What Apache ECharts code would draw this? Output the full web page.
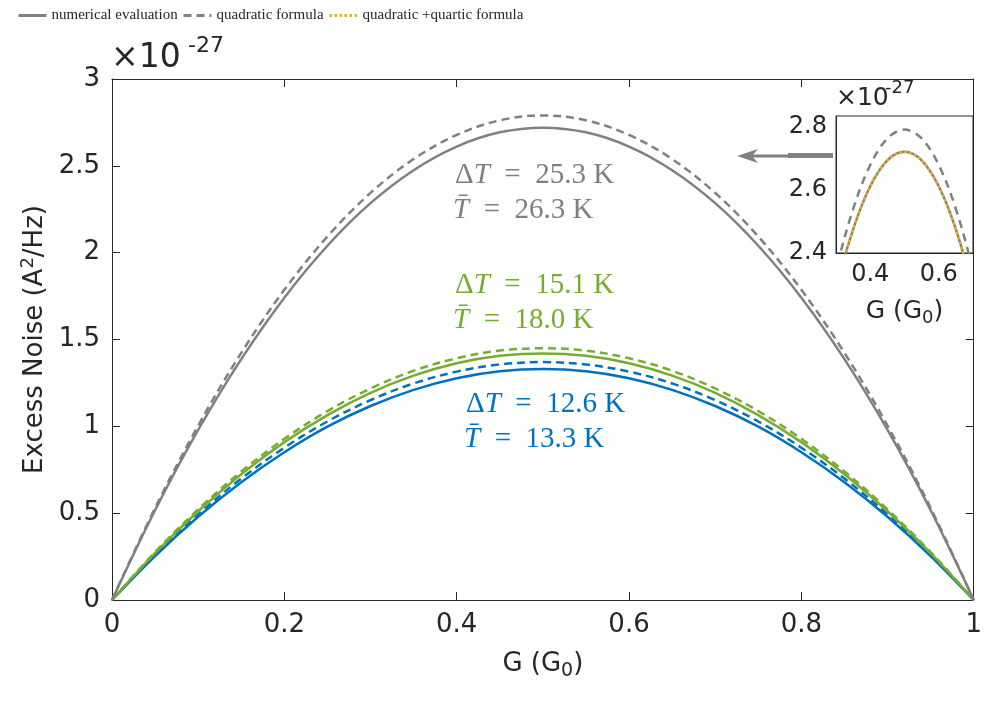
<!DOCTYPE html>
<html><head><meta charset="utf-8">
<script src="https://cdn.jsdelivr.net/npm/echarts@6/dist/echarts.min.js"></script>
<style>html,body{margin:0;padding:0;background:#fff}#c{width:985px;height:702px}</style>
</head><body><div id="c"></div>
<script>
// conductance G (G0)
const G = [0,0.05,0.1,0.15,0.2,0.25,0.3,0.35,0.4,0.45,0.5,0.55,0.6,0.65,0.7,0.75,0.8,0.85,0.9,0.95,1];
// excess noise, units of 1e-27 A^2/Hz
const grayNum   = [0,0.517,0.979,1.387,1.741,2.040,2.285,2.475,2.611,2.693,2.720,2.693,2.611,2.475,2.285,2.040,1.741,1.387,0.979,0.517,0];
const grayQuad  = [0,0.530,1.004,1.423,1.786,2.093,2.344,2.539,2.678,2.762,2.790,2.762,2.678,2.539,2.344,2.093,1.786,1.423,1.004,0.530,0];
const grayQuart = [0,0.517,0.979,1.387,1.741,2.040,2.285,2.475,2.611,2.693,2.719,2.693,2.611,2.475,2.285,2.040,1.741,1.387,0.979,0.517,0];
const greenNum  = [0,0.270,0.511,0.724,0.909,1.065,1.193,1.292,1.363,1.406,1.420,1.406,1.363,1.292,1.193,1.065,0.909,0.724,0.511,0.270,0];
const greenQuad = [0,0.276,0.522,0.740,0.928,1.088,1.218,1.320,1.392,1.436,1.450,1.436,1.392,1.320,1.218,1.088,0.928,0.740,0.522,0.276,0];
const blueNum   = [0,0.253,0.479,0.678,0.851,0.998,1.117,1.210,1.277,1.317,1.330,1.317,1.277,1.210,1.117,0.998,0.851,0.678,0.479,0.253,0];
const blueQuad  = [0,0.260,0.493,0.699,0.877,1.028,1.151,1.247,1.315,1.356,1.370,1.356,1.315,1.247,1.151,1.028,0.877,0.699,0.493,0.260,0];
const xTicks = [0,0.2,0.4,0.6,0.8,1];
const yTicks = [0,0.5,1,1.5,2,2.5,3];
const insetXLabels = [0.4,0.6];
const insetYLabels = [2.4,2.6,2.8];
const labels = [
  {d:'25.3', t:'26.3', color:'#808080'},
  {d:'15.1', t:'18.0', color:'#77AC30'},
  {d:'12.6', t:'13.3', color:'#0072BD'}
];

const GRAY='#808080', GREEN='#77AC30', BLUE='#0072BD', ORANGE='#EDB120', AX='#262626';
const pts = arr => G.map((g,i)=>[g,arr[i]]);
const fmt = v => String(parseFloat((+v).toFixed(2)));
const SANS = 'DejaVu Sans', SERIF = 'Liberation Serif';

function line(name, arr, color, dash, xi, z){
  return {type:'line', name, data:pts(arr), xAxisIndex:xi, yAxisIndex:xi, smooth:0.35,
    symbol:'none', z:z||2, animation:false, clip:true,
    lineStyle:{color, width:2.5, type:dash||'solid'}, itemStyle:{color}};
}
const baseAxis = {
  axisLine:{show:true,onZero:false,lineStyle:{color:AX,width:1}},
  axisTick:{show:true,inside:true,length:8,lineStyle:{color:AX}},
  splitLine:{show:false},
  axisLabel:{color:AX,fontFamily:SANS,fontSize:26},
  nameTextStyle:{color:AX,fontFamily:SANS,fontSize:26}
};
const nameRich = (fs, sfs) => ({
  color:AX, fontFamily:SANS, fontSize:fs,
  rich:{
    n:{color:AX,fontFamily:SANS,fontSize:fs},
    sub:{color:AX,fontFamily:SANS,fontSize:sfs,padding:[Math.round(fs*0.55),0,0,0]},
    sup:{color:AX,fontFamily:SANS,fontSize:sfs,padding:[0,0,Math.round(fs*0.5),0]}
  }
});

const chart = echarts.init(document.getElementById('c'), null, {renderer:'canvas'});
const legendText = {color:AX,fontFamily:SERIF,fontSize:15};
const legendCommon = {top:3, itemWidth:28, itemHeight:12, textStyle:legendText, itemStyle:{opacity:0}, lineStyle:{width:3}, itemGap:0};
function lab(y, x, l){
  return [
    {type:'text', x:x, y:y, z:10, style:{text:'{u|Δ}{i|T}{u|\u2002=\u2002'+l.d+' K}', verticalAlign:'middle',
      rich:{u:{fontFamily:SERIF,fontSize:29,fill:l.color},i:{fontFamily:SERIF,fontSize:29,fontStyle:'italic',fill:l.color}}}},
    {type:'text', x:x-2, y:y+35, z:10, style:{text:'{i|T\u0304}{u|\u2002=\u2002'+l.t+' K}', verticalAlign:'middle',
      rich:{u:{fontFamily:SERIF,fontSize:29,fill:l.color},i:{fontFamily:SERIF,fontSize:29,fontStyle:'italic',fill:l.color}}}}
  ];
}
chart.setOption({
  backgroundColor:'#fff',
  animation:false,
  legend:[
    Object.assign({left:12, data:['numerical evaluation']}, legendCommon),
    Object.assign({left:177, data:['quadratic formula']}, legendCommon),
    Object.assign({left:323, data:['quadratic +quartic formula']}, legendCommon)
  ],
  grid:[
    {left:112, top:79, width:865, height:521},
    {left:836, top:116, width:137, height:137, show:true, backgroundColor:'#fff', borderColor:AX, borderWidth:1, z:5}
  ],
  xAxis:[
    Object.assign({}, baseAxis, {type:'value', gridIndex:0, min:0, max:1, interval:0.2, position:'bottom',
      name:'{n|G (G}{sub|0}{n|)}', nameLocation:'middle', nameGap:48, nameTextStyle:nameRich(26,19),
      axisLabel:Object.assign({}, baseAxis.axisLabel, {margin:12, formatter:v=> xTicks.some(t=>Math.abs(t-v)<1e-6)?fmt(v):''})}),
    Object.assign({}, baseAxis, {type:'value', gridIndex:0, min:0, max:1, interval:0.2, position:'top', axisLabel:{show:false}}),
    Object.assign({}, baseAxis, {type:'value', gridIndex:1, min:0.3, max:0.7, interval:0.1, position:'bottom', z:6,
      axisTick:{show:false}, name:'{n|G (G}{sub|0}{n|)}', nameLocation:'middle', nameGap:42,
      nameTextStyle:nameRich(25,18),
      axisLabel:{color:AX,fontFamily:SANS,fontSize:24,margin:10, formatter:v=> insetXLabels.some(t=>Math.abs(t-v)<1e-6)?fmt(v):''}})
  ],
  yAxis:[
    Object.assign({}, baseAxis, {type:'value', gridIndex:0, min:0, max:3, interval:0.5, position:'left',
      name:'{n|Excess Noise (A}{sup|2}{n|/Hz)}', nameLocation:'middle', nameGap:60, nameRotate:90,
      nameTextStyle:nameRich(26,18),
      axisLabel:Object.assign({}, baseAxis.axisLabel, {margin:12, formatter:v=> yTicks.some(t=>Math.abs(t-v)<1e-6)?fmt(v):''})}),
    Object.assign({}, baseAxis, {type:'value', gridIndex:0, min:0, max:3, interval:0.5, position:'right', axisLabel:{show:false}}),
    Object.assign({}, baseAxis, {type:'value', gridIndex:1, min:2.4, max:2.833, interval:0.2, position:'left', z:6,
      axisTick:{show:false},
      axisLabel:{color:AX,fontFamily:SANS,fontSize:24,margin:9, formatter:v=> insetYLabels.some(t=>Math.abs(t-v)<1e-6)?fmt(v):''}})
  ],
  series:[
    line('numerical evaluation (ΔT = 12.6 K)', blueNum, BLUE, 'solid', 0),
    line('quadratic formula (ΔT = 12.6 K)', blueQuad, BLUE, [8,5], 0),
    line('numerical evaluation (ΔT = 15.1 K)', greenNum, GREEN, 'solid', 0),
    line('quadratic formula (ΔT = 15.1 K)', greenQuad, GREEN, [8,5], 0),
    line('numerical evaluation', grayNum, GRAY, 'solid', 0, 3),
    line('quadratic formula', grayQuad, GRAY, [8,5], 0, 3),
    line('numerical evaluation', grayNum, GRAY, 'solid', 2, 7),
    line('quadratic formula', grayQuad, GRAY, [8,6], 2, 7),
    line('quadratic +quartic formula', grayQuart, ORANGE, [2.5,2.5], 2, 8)
  ],
  graphic:[
    {type:'text', x:111, y:58, z:10, style:{text:'×10', fontFamily:SANS, fontSize:33, fill:AX, verticalAlign:'middle'}},
    {type:'text', x:188, y:46, z:10, style:{text:'-27', fontFamily:SANS, fontSize:22, fill:AX, verticalAlign:'middle'}},
    {type:'text', x:836, y:98, z:10, style:{text:'×10', fontFamily:SANS, fontSize:25, fill:AX, verticalAlign:'middle'}},
    {type:'text', x:885, y:88, z:10, style:{text:'-27', fontFamily:SANS, fontSize:18, fill:AX, verticalAlign:'middle'}},
    {type:'rect', z:10, shape:{x:788, y:153, width:45, height:5}, style:{fill:GRAY}},
    {type:'rect', z:10, shape:{x:752, y:154.5, width:38, height:3}, style:{fill:GRAY}},
    {type:'polygon', z:10, shape:{points:[[737,156],[758,149],[752,156],[758,163]]}, style:{fill:GRAY}}
  ].concat(lab(175,455,labels[0]), lab(285,455,labels[1]), lab(404,466,labels[2]))
});
</script>
</body></html>
